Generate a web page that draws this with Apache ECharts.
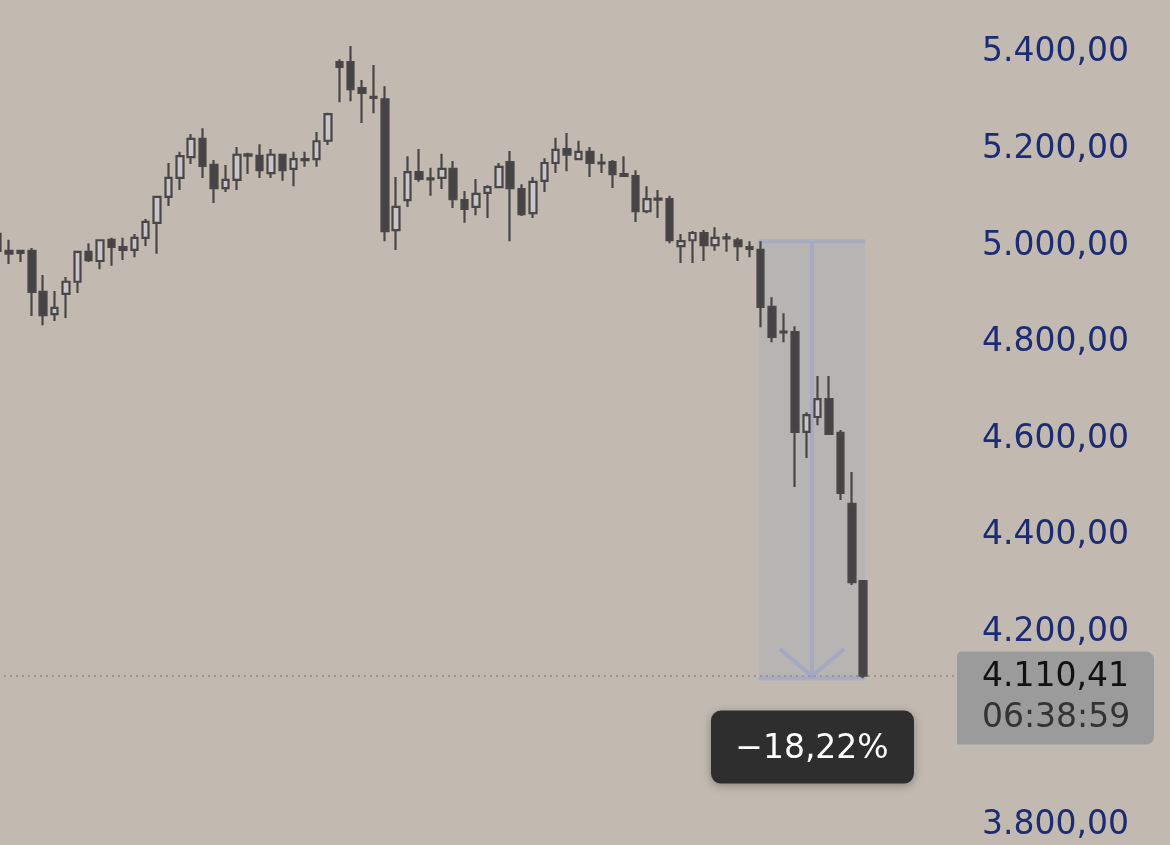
<!DOCTYPE html>
<html>
<head>
<meta charset="utf-8">
<script src="https://cdn.jsdelivr.net/npm/echarts@6/dist/echarts.min.js"></script>
<style>
  html, body { margin: 0; padding: 0; background: #c2bab0; }
  #chart { width: 1170px; height: 845px; }
</style>
</head>
<body>
<div id="chart"></div>
<script>
// candles, oldest first
const opens = [5025, 4990, 4990, 4990, 4905, 4859, 4901, 4926, 4988, 4969,
  5013, 4998, 4992, 5017, 5048, 5102, 5141, 5184, 5222, 5168,
  5120, 5137, 5190, 5187, 5151, 5189, 5160, 5178, 5180, 5218,
  5381, 5381, 5327, 5309, 5304, 5033, 5095, 5153, 5140, 5141,
  5160, 5095, 5081, 5110, 5122, 5174, 5118, 5068, 5135, 5172,
  5201, 5180, 5195, 5173, 5174, 5149, 5145, 5072, 5098, 5097,
  5000, 5012, 5027, 5002, 5018, 5012, 4998, 4992, 4874, 4823,
  4822, 4615, 4646, 4683, 4613, 4466, 4306];
const closes = [4990, 4984, 4986, 4905, 4857, 4872, 4926, 4988, 4971, 5012,
  4998, 4992, 5017, 5050, 5102, 5141, 5186, 5222, 5166, 5120,
  5137, 5189, 5187, 5157, 5189, 5157, 5180, 5180, 5217, 5273,
  5371, 5325, 5317, 5307, 5031, 5081, 5153, 5139, 5138, 5160,
  5097, 5077, 5108, 5122, 5164, 5120, 5066, 5133, 5172, 5199,
  5189, 5195, 5172, 5171, 5149, 5145, 5072, 5097, 5096, 5012,
  5010, 5027, 5002, 5017, 5016, 5000, 4994, 4874, 4812, 4821,
  4615, 4650, 4683, 4611, 4489, 4304, 4110.41];
const lows = [4984, 4963, 4967, 4855, 4836, 4845, 4851, 4903, 4967, 4952,
  4959, 4971, 4977, 5000, 4984, 5083, 5116, 5170, 5141, 5089,
  5112, 5116, 5149, 5141, 5141, 5135, 5124, 5164, 5164, 5209,
  5298, 5300, 5255, 5275, 5010, 4992, 5081, 5133, 5104, 5118,
  5079, 5048, 5064, 5058, 5120, 5010, 5062, 5058, 5112, 5151,
  5155, 5178, 5143, 5151, 5120, 5143, 5050, 5068, 5058, 5006,
  4965, 4965, 4969, 4990, 4988, 4969, 4977, 4832, 4801, 4801,
  4501, 4561, 4629, 4611, 4474, 4298, 4105];
const highs = [5033, 5013, 4992, 4996, 4940, 4907, 4936, 4989, 5006, 5013,
  5017, 5017, 5025, 5056, 5102, 5172, 5195, 5232, 5244, 5178,
  5168, 5205, 5193, 5211, 5201, 5190, 5195, 5195, 5236, 5276,
  5387, 5414, 5344, 5375, 5331, 5143, 5186, 5201, 5162, 5191,
  5176, 5114, 5139, 5126, 5172, 5197, 5128, 5143, 5182, 5224,
  5234, 5218, 5205, 5191, 5178, 5186, 5157, 5124, 5116, 5104,
  5025, 5031, 5033, 5039, 5027, 5017, 5010, 5010, 4894, 4861,
  4834, 4656, 4731, 4731, 4619, 4532, 4306];

const emptySlots = 8;           // free room right of the last candle
const yTicks = { min: 3600, max: 5600, step: 200 };
const lastPrice = 4110.41;
const lastTime = '06:38:59';
const measure = { from: 67, to: 76, top: 5010, text: '\u221218,22%' };

const FONT = '"DejaVu Sans", Inter, sans-serif';

function fmt(v, d) {
  const s = v.toFixed(d).split('.');
  return s[0].replace(/\B(?=(\d{3})+(?!\d))/g, '.') + (d ? ',' + s[1] : '');
}

const categories = [];
const candles = [];
for (let i = 0; i < opens.length + emptySlots; i++) {
  categories.push(String(i));
  if (i < opens.length) candles.push([opens[i], closes[i], lows[i], highs[i]]);
  else candles.push('-');
}

const step = 11.39;
const myChart = echarts.init(document.getElementById('chart'));
const option = {
  backgroundColor: '#c2bab0',
  animation: false,
  grid: {
    left: -8.1,
    top: -43.7,
    width: categories.length * step,
    height: 965.8,
    containLabel: false,
    outerBoundsMode: 'none',
  },
  xAxis: {
    type: 'category',
    data: categories,
    boundaryGap: true,
    show: false,
  },
  yAxis: {
    type: 'value',
    position: 'right',
    min: yTicks.min,
    max: yTicks.max,
    interval: yTicks.step,
    axisLine: { show: false },
    axisTick: { show: false },
    splitLine: { show: false },
    axisLabel: {
      margin: 22,
      fontSize: 33,
      fontFamily: FONT,
      color: '#1b2b74',
      formatter: (v) => fmt(v, 2),
    },
  },
  series: [{
    type: 'candlestick',
    z: 5,
    data: candles,
    barWidth: 7,
    itemStyle: {
      color: '#c8c6ca',
      color0: '#464347',
      borderColor: '#4a4647',
      borderColor0: '#4a4647',
      borderWidth: 2.2,
    },
    markLine: {
      silent: true,
      symbol: 'none',
      label: { show: false },
      lineStyle: { type: [2, 4], color: '#9d9296', width: 2 },
      data: [{ yAxis: lastPrice }],
    },
  }],
};
myChart.setOption(option);

// overlay: measuring box (under the candles), percent tag and last price tag
const toPx = (i, v) => myChart.convertToPixel({ xAxisIndex: 0, yAxisIndex: 0 }, [i, v]);
const pTop = toPx(measure.from, measure.top);
const pEnd = toPx(measure.to, lastPrice);
const x0 = pTop[0] - 2;
const x1 = pEnd[0] + 2;
const yTop = pTop[1];
const yBot = pEnd[1] + 3;
const xm = (x0 + x1) / 2;
const blue = 'rgba(140,155,215,0.42)';

myChart.setOption({
  graphic: [
    { type: 'rect', z: 0, shape: { x: x0, y: yTop, width: x1 - x0, height: yBot - yTop }, style: { fill: 'rgba(160,165,190,0.3)' } },
    { type: 'line', z: 1, shape: { x1: x0, y1: yTop, x2: x1, y2: yTop }, style: { stroke: blue, lineWidth: 4 } },
    { type: 'line', z: 1, shape: { x1: x0, y1: yBot, x2: x1, y2: yBot }, style: { stroke: blue, lineWidth: 4 } },
    { type: 'line', z: 1, shape: { x1: xm, y1: yTop + 2, x2: xm, y2: yBot - 2 }, style: { stroke: blue, lineWidth: 4 } },
    { type: 'polyline', z: 1, shape: { points: [[xm - 32, yBot - 30], [xm, yBot - 2], [xm + 32, yBot - 30]] }, style: { stroke: blue, lineWidth: 4, fill: null } },
    {
      type: 'rect', z: 110,
      shape: { x: xm - 101, y: yBot + 32, width: 203, height: 73, r: 10 },
      style: { fill: '#2e2e2e', shadowBlur: 10, shadowColor: 'rgba(0,0,0,0.3)', shadowOffsetY: 2 },
    },
    {
      type: 'text', z: 111,
      style: { text: measure.text, x: xm, y: yBot + 71, align: 'center', verticalAlign: 'middle', fill: '#ffffff', font: '33px ' + FONT },
    },
    {
      type: 'rect', z: 110,
      shape: { x: 957, y: pEnd[1] - 24, width: 197, height: 93, r: [5, 8, 8, 0] },
      style: { fill: '#9b9b9b' },
    },
    {
      type: 'text', z: 111,
      style: { text: fmt(lastPrice, 2), x: 982, y: pEnd[1] + 2, align: 'left', verticalAlign: 'middle', fill: '#111111', font: '33px ' + FONT },
    },
    {
      type: 'text', z: 111,
      style: { text: lastTime, x: 982, y: pEnd[1] + 43, align: 'left', verticalAlign: 'middle', fill: '#333333', font: '33px ' + FONT },
    },
  ],
});

window.addEventListener('resize', () => {
  myChart.resize();
});
</script>
</body>
</html>
